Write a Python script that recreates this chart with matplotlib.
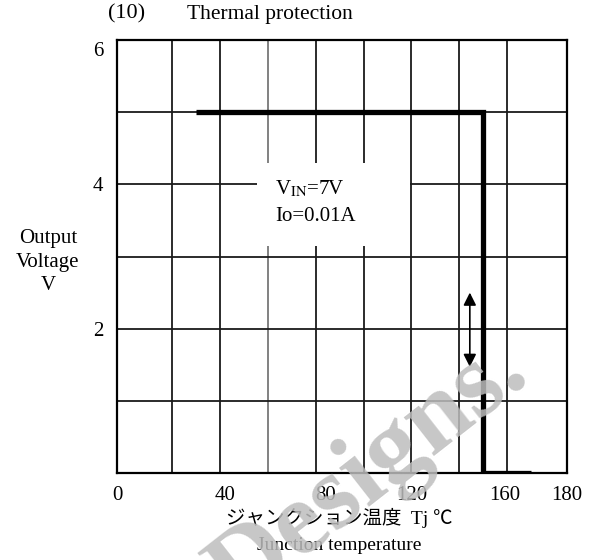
import numpy as np
import matplotlib.pyplot as plt
from matplotlib.patches import Rectangle

plt.rcParams['font.family'] = ['Liberation Serif', 'Noto Sans CJK JP']
plt.rcParams['mathtext.fontset'] = 'stix'

# output voltage vs junction temperature (thermal shutdown)
tj = [30, 150, 150, 170]
vout = [5, 5, 0, 0]

x_labels = ['0', '40', '80', '120', '160', '180']
y_labels = ['6', '4', '2']

vin = 7
io = 0.01

# where the tick labels sit (data units)
x_label_pos = [-3, 42, 84, 120, 159, 185]
y_label_pos = [5.88, 4, 2]

fig = plt.figure(figsize=(6.01, 5.6), dpi=100)
ax = fig.add_axes([117/601, 87/560, 450/601, 433/560])
ax.set_xlim(0, 180)
ax.set_ylim(0, 6)

# grid every 20 degC / 1 V
for gx in np.arange(20, 180, 20):
    ax.axvline(gx, color='#777777' if gx == 60 else '#1a1a1a', lw=1.3, zorder=1)
for gy in np.arange(1, 6):
    ax.axhline(gy, color='#1a1a1a', lw=1.3, zorder=1)

ax.set_xticks(x_label_pos, x_labels, fontsize=15)
ax.set_yticks(y_label_pos, y_labels, fontsize=15)
ax.tick_params(which='both', length=0)
ax.tick_params(axis='x', pad=9)
ax.tick_params(axis='y', pad=10)
for s in ax.spines.values():
    s.set_linewidth(1.6)

ax.plot(tj, vout, color='black', lw=3.8, solid_joinstyle='miter',
        solid_capstyle='butt', zorder=5)

# condition note, blanking the grid behind it
ax.add_patch(Rectangle((55.5, 3.15), 64, 1.15, facecolor='white',
                       edgecolor='none', zorder=2))
ax.text(63, 3.93, r'V$_{\mathrm{IN}}$=%dV' % vin, fontsize=15, va='center', zorder=3)
ax.text(63, 3.55, f'Io={io}A', fontsize=15, va='center', zorder=3)

# hysteresis arrow
ax.annotate('', xy=(144.4, 1.47), xytext=(144.4, 2.5),
            arrowprops=dict(arrowstyle='<|-|>', color='black', lw=1.2,
                            mutation_scale=19, shrinkA=0, shrinkB=0))

fig.text(108/601, 1 - 14/560, '(10)', fontsize=16, va='center')
fig.text(187/601, 1 - 14/560, 'Thermal protection', fontsize=15.5, va='center')
fig.text(48/601, 1 - 262/560, 'Output\nVoltage\nV', ha='center', va='center',
         linespacing=1.3, fontsize=15)
fig.text(339/601, 1 - 518/560, 'ジャンクション温度  Tj ℃', ha='center', va='center',
         fontsize=14)
fig.text(339/601, 1 - 545/560, 'Junction temperature', ha='center', va='center',
         fontsize=14)

fig.text(531/601, 1 - 379/560, 'Designs.', rotation=38, rotation_mode='anchor',
         ha='right', va='baseline', fontsize=76, fontweight='bold',
         family='Liberation Serif', color='#bdbdbd', alpha=0.85, zorder=10)

fig.savefig('out.png', dpi=100)
